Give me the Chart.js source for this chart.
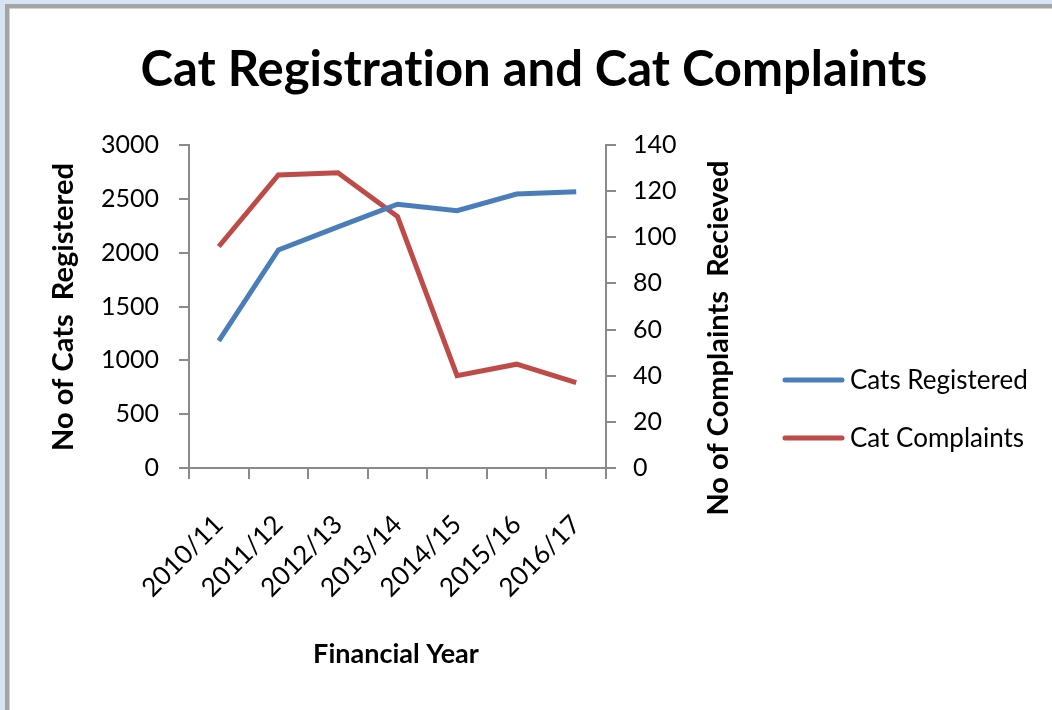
<!DOCTYPE html>
<html>
<head>
<meta charset="utf-8">
<script src="https://cdn.jsdelivr.net/npm/chart.js@4.4.1/dist/chart.umd.min.js"></script>
<style>
  html, body { margin: 0; padding: 0; }
  body { width: 1052px; height: 710px; background: #d6e3f4; overflow: hidden; position: relative; }
  .frame {
    position: absolute; left: 5px; top: 4px; width: 1060px; height: 720px;
    background: #fff; border-left: 4px solid #a4a4a4; border-top: 4px solid #a4a4a4;
    box-shadow: inset 1px 1px 0 #cfcfcf;
  }
  #wrap { position: absolute; left: 0; top: 0; width: 1052px; height: 710px; }
</style>
</head>
<body>
<div class="frame"></div>
<div id="wrap"><canvas id="catChart" width="1052" height="710"></canvas></div>
<script>
// datos
var years = ['2010/11', '2011/12', '2012/13', '2013/14', '2014/15', '2015/16', '2016/17'];
var catsRegistered = [1180, 2025, 2240, 2450, 2390, 2545, 2565];
var catComplaints = [96, 127, 128, 109, 40, 45, 37];
var leftTicks = [0, 500, 1000, 1500, 2000, 2500, 3000];
var rightTicks = [0, 20, 40, 60, 80, 100, 120, 140];

var FONT = 'Lato, "Open Sans", sans-serif';
var AXIS_GREY = '#8a8a8a';

// textos dibujados a mano: título, títulos de ejes y leyenda
var textPlugin = {
    id: 'catTexts',
    afterDraw: function(chart) {
        var ctx = chart.ctx;
        ctx.save();
        ctx.fillStyle = '#000';
        if ('textRendering' in ctx) ctx.textRendering = 'optimizeSpeed';

        ctx.font = 'bold 49px ' + FONT;
        ctx.textAlign = 'center';
        ctx.textBaseline = 'alphabetic';
        ctx.fillText('Cat Registration and Cat Complaints', 534, 86);

        ctx.font = 'bold 27px ' + FONT;
        ctx.textBaseline = 'middle';
        ctx.fillText('Financial Year', 396, 654);

        ctx.font = 'bold 29px ' + FONT;
        ctx.save();
        ctx.translate(64, 307);
        ctx.rotate(-Math.PI / 2);
        ctx.fillText('No of Cats  Registered', 0, 0);
        ctx.restore();

        ctx.save();
        ctx.translate(719, 338);
        ctx.rotate(-Math.PI / 2);
        ctx.fillText('No of Complaints  Recieved', 0, 0);
        ctx.restore();

        // leyenda
        var rows = [380, 438];
        chart.data.datasets.forEach(function(ds, i) {
            ctx.strokeStyle = ds.borderColor;
            ctx.lineWidth = 5;
            ctx.lineCap = 'round';
            ctx.beginPath();
            ctx.moveTo(785, rows[i]);
            ctx.lineTo(842, rows[i]);
            ctx.stroke();
            ctx.font = '26px ' + FONT;
            ctx.textAlign = 'left';
            ctx.fillText(ds.label, 850, rows[i] + 1);
        });
        ctx.restore();
    }
};

function plain(v) { return String(v); }

new Chart(document.getElementById('catChart'), {
    type: 'line',
    data: {
        labels: years,
        datasets: [{
            label: 'Cats Registered',
            data: catsRegistered,
            yAxisID: 'y',
            borderColor: '#4a7ebb',
            borderWidth: 5,
            pointRadius: 0,
            tension: 0
        }, {
            label: 'Cat Complaints',
            data: catComplaints,
            yAxisID: 'y2',
            borderColor: '#be4b48',
            borderWidth: 5,
            pointRadius: 0,
            tension: 0
        }]
    },
    options: {
        responsive: false,
        animation: false,
        layout: { padding: { left: 0, top: 145, right: 1052 - 606 - 100, bottom: 710 - 468 - 150 } },
        plugins: {
            legend: { display: false },
            title: { display: false },
            tooltip: { enabled: false }
        },
        scales: {
            x: {
                offset: true,
                grid: { offset: true, drawOnChartArea: false, tickLength: 11, color: AXIS_GREY, lineWidth: 2 },
                border: { color: AXIS_GREY, width: 2 },
                ticks: { minRotation: 45, maxRotation: 45, padding: 30, color: '#000', font: { family: FONT, size: 26 } },
                afterFit: function(scale) { scale.height = 150; }
            },
            y: {
                position: 'left',
                min: 0, max: 3000,
                afterBuildTicks: function(scale) { scale.ticks = leftTicks.map(function(v) { return { value: v }; }); },
                grid: { drawOnChartArea: false, tickLength: 10, color: AXIS_GREY, lineWidth: 2 },
                border: { color: AXIS_GREY, width: 2 },
                ticks: { padding: 20, color: '#000', font: { family: FONT, size: 25 }, callback: plain },
                afterFit: function(scale) { scale.width = 189; }
            },
            y2: {
                position: 'right',
                min: 0, max: 140,
                afterBuildTicks: function(scale) { scale.ticks = rightTicks.map(function(v) { return { value: v }; }); },
                grid: { drawOnChartArea: false, tickLength: 10, color: AXIS_GREY, lineWidth: 2 },
                border: { color: AXIS_GREY, width: 2 },
                ticks: { padding: 17, color: '#000', font: { family: FONT, size: 25 }, callback: plain },
                afterFit: function(scale) { scale.width = 100; }
            }
        }
    },
    plugins: [textPlugin]
});
</script>
</body>
</html>
